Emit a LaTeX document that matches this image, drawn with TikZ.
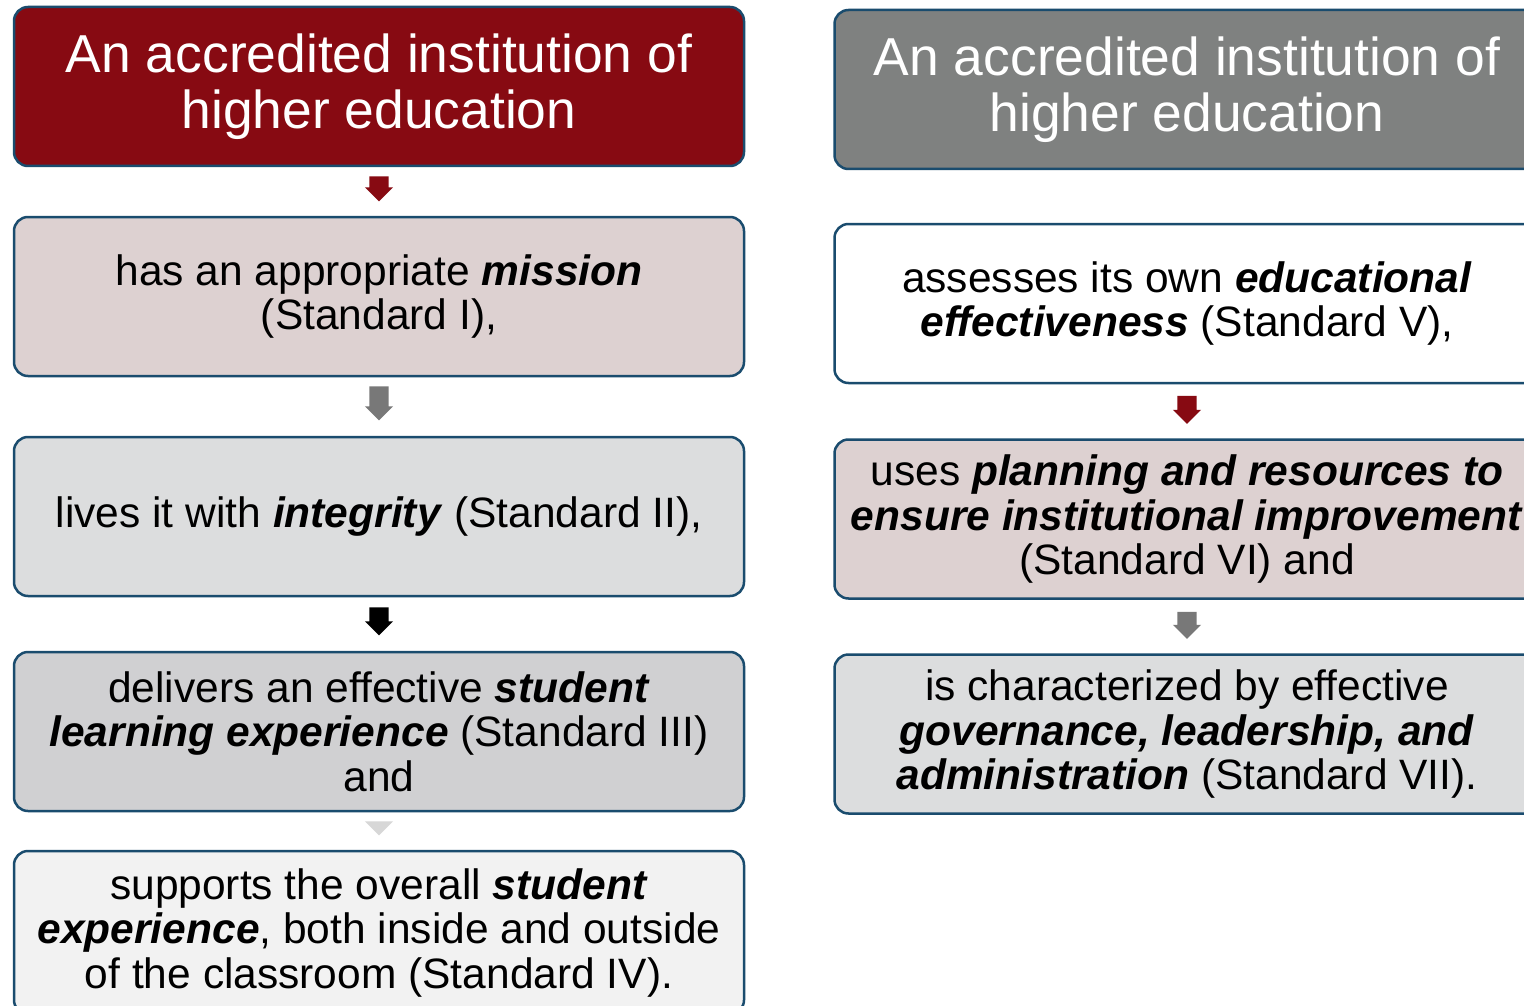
\documentclass[tikz,border=0pt]{standalone}
\usepackage{fontspec}
\setmainfont{Liberation Sans}
\usepackage{tikz}
\usetikzlibrary{shapes.arrows, positioning, calc}

\definecolor{msred}{RGB}{135, 10, 18}
\definecolor{msgrey}{RGB}{127, 129, 128}
\definecolor{edgeblue}{RGB}{26, 76, 110}
\definecolor{rosegrey}{RGB}{221, 209, 209}
\definecolor{lightgrey}{RGB}{220, 221, 222}
\definecolor{midgrey}{RGB}{208, 208, 210}
\definecolor{palegrey}{RGB}{242, 242, 242}
\definecolor{arrowgrey}{RGB}{120, 120, 120}
\definecolor{fadegrey}{RGB}{215, 215, 215}

\newcommand{\bfit}[1]{\textbf{\textit{#1}}}

\tikzset{
  stdbox/.style={draw=edgeblue, line width=2.5pt, rounded corners=14pt, align=center,
    inner sep=0pt, font=\fontsize{42.5}{44.5}\selectfont},
  leftbox/.style={stdbox, minimum width=730pt, minimum height=159pt},
  rightbox/.style={stdbox, minimum width=705pt, minimum height=159pt},
  titlebox/.style={text=white, font=\fontsize{53.4}{56.5}\selectfont},
  downarrow/.style={single arrow, rotate=-90, anchor=tip, inner xsep=0pt, inner ysep=9.5pt,
    single arrow head extend=4.5pt, draw=none}
}

\begin{document}
\begin{tikzpicture}[x=1pt, y=-1pt]
  \useasboundingbox (0,0) rectangle (1524,1006);
  \clip (0,0) rectangle (1524,1006);
  \fill[white] (0,0) rectangle (1524,1006);

  % Left column
  \node[leftbox, titlebox, fill=msred] (l1) at (379, 86.5) {An accredited institution of\\higher education};
  \node[leftbox, fill=rosegrey] (l2) at (379, 296.5) {has an appropriate \bfit{mission}\\(Standard I),};
  \node[leftbox, fill=lightgrey] (l3) at (379, 516.5) {lives it with \bfit{integrity} (Standard II),};
  \node[leftbox, fill=midgrey] (l4) at (379, 731.5) {delivers an effective \bfit{student}\\\bfit{learning experience} (Standard III)\\and};
  \node[leftbox, fill=palegrey, minimum height=163pt] (l5) at (379, 932.5) {supports the overall \bfit{student}\\\bfit{experience}, both inside and outside\\of the classroom (Standard IV).};

  % Right column
  \node[rightbox, titlebox, fill=msgrey] (r1) at (1187, 89.5) {An accredited institution of\\higher education};
  \node[rightbox, fill=white] (r2) at (1187, 303.5) {assesses its own \bfit{educational}\\\bfit{effectiveness} (Standard V),};
  \node[rightbox, fill=rosegrey] (r3) at (1187, 519) {uses \bfit{planning and resources to}\\\bfit{ensure institutional improvement}\\(Standard VI) and};
  \node[rightbox, fill=lightgrey] (r4) at (1187, 734) {is characterized by effective\\\bfit{governance, leadership, and}\\\bfit{administration} (Standard VII).};

  % Arrows between boxes
  \node[downarrow, fill=msred, minimum height=25pt] (a1) at ($(l2.north)+(0,-14)$) {};
  \node[downarrow, fill=arrowgrey, minimum height=34pt] (a2) at ($(l3.north)+(0,-15)$) {};
  \node[downarrow, fill=black, minimum height=28pt] (a3) at ($(l4.north)+(0,-15)$) {};
  \node[downarrow, fill=fadegrey, minimum height=14pt] (a4) at ($(l5.north)+(0,-14)$) {};
  \node[downarrow, fill=msred, minimum height=28pt] (a5) at ($(r3.north)+(0,-14)$) {};
  \node[downarrow, fill=arrowgrey, minimum height=27pt] (a6) at ($(r4.north)+(0,-14)$) {};
\end{tikzpicture}
\end{document}
